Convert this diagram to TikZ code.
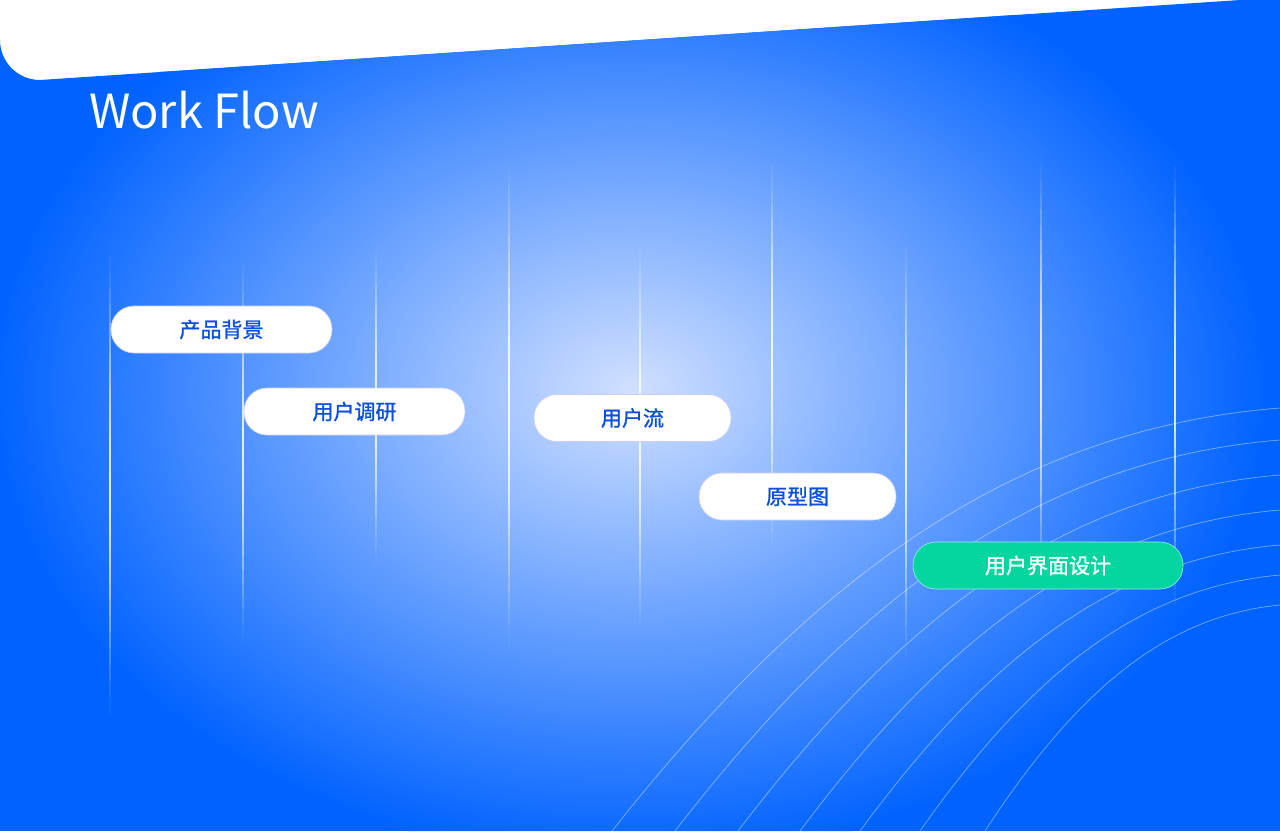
\documentclass[tikz,border=0pt]{standalone}
\usepackage{fontspec}
\setmainfont{Noto Sans CJK SC}
\newfontfamily\pillfont[FakeBold=1.2]{Noto Sans CJK SC}
\definecolor{bgblue}{HTML}{0062FF}
\definecolor{lightc}{HTML}{D0E0FF}
\definecolor{txtblue}{HTML}{0A4FE0}
\definecolor{green}{HTML}{05D6A0}
\tikzset{
  pill/.style={rounded corners=23pt, fill=white, draw=white!80!blue, line width=0.6pt, minimum height=47pt, font=\pillfont\fontsize{21}{24}\selectfont, text=txtblue, inner sep=0pt},
  arc/.style={draw=white, opacity=0.45, line width=0.7pt}
}
\begin{document}
\begin{tikzpicture}[x=1pt,y=-1pt]
\useasboundingbox (0,0) rectangle (1280,831);
\begin{scope}
\clip (0,831) -- (0,40) arc[start angle=180, end angle=90, x radius=40pt, y radius=-40pt] -- (1240,0) arc[start angle=90, end angle=0, x radius=40pt, y radius=-40pt] -- (1280,831) -- cycle;
\fill[bgblue] (0,0) rectangle (1280,831);
\shade[inner color=lightc, outer color=bgblue] (630,390) ellipse (640 and 470);
% vertical lines, faded at both ends
\foreach \x/\a/\b in {110/240/730, 243/250/650, 376/240/570, 509/150/660, 640/230/640, 772/150/560, 906/230/670, 1041/150/600, 1175/150/620}{
  \foreach \i in {0,...,29}{
    \pgfmathsetmacro\op{0.85*sin(180*(\i+0.5)/30)^1.5}
    \pgfmathsetmacro\ya{\a+(\b-\a)*\i/30}
    \pgfmathsetmacro\yb{\a+(\b-\a)*(\i+1)/30}
    \fill[white, opacity=\op] (\x-0.9,\ya) rectangle (\x+0.9,\yb);
  }
}
% arcs
\foreach \xo/\yo in {612/408, 675/440, 738/475, 800/510, 860/545, 920/575, 985/605}
  \draw[arc] (\xo,831) .. controls ({\xo+0.3*(1280-\xo)},{831-0.6*(831-\yo)}) and ({\xo+0.6*(1280-\xo)},{\yo+0.05*(831-\yo)}) .. (1280,\yo);
\end{scope}
\node[anchor=west, text=white, font=\fontsize{24}{28}\selectfont] (t1) at (89,56) {工作流程};
\node[anchor=base west, text=white, font=\fontsize{47}{54}\selectfont, inner sep=0pt] (t2) at (89,128) {Work Flow};
\node[pill, minimum width=221pt] (p1) at (221.5,329.5) {产品背景};
\node[pill, minimum width=221pt] (p2) at (354.5,411.5) {用户调研};
\node[pill, minimum width=197pt] (p3) at (632.5,418) {用户流};
\node[pill, minimum width=197pt] (p4) at (797.5,496.5) {原型图};
\node[pill, minimum width=270pt, fill=green, draw=white!60!green, text=white] (p5) at (1048,565.5) {用户界面设计};
\end{tikzpicture}
\end{document}
